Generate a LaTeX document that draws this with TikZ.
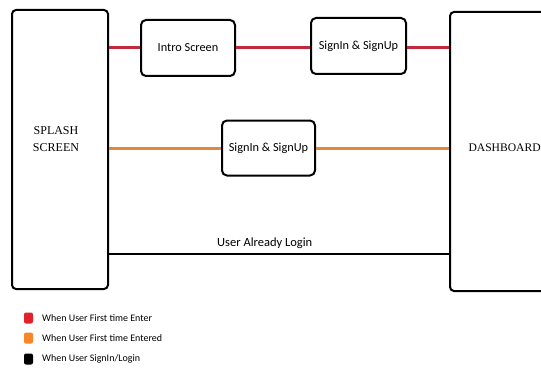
\documentclass[tikz,border=0pt]{standalone}
\usepackage{fontspec}
\setmainfont{Carlito}
\newfontfamily\serifhead{Liberation Serif}
\definecolor{lred}{HTML}{C2293C}
\definecolor{lorange}{HTML}{E0893A}
\definecolor{kred}{HTML}{E3212B}
\definecolor{korange}{HTML}{F5862A}
\begin{document}
\begin{tikzpicture}[x=1pt,y=-1pt,
  bigbox/.style={draw=black,line width=2pt,rounded corners=4pt,fill=white,anchor=north west,inner sep=0pt},
  smallbox/.style={draw=black,line width=2pt,rounded corners=5pt,fill=white,inner sep=0pt,font=\fontsize{12.3}{14}\selectfont},
  redline/.style={lred,line width=3pt},
  orangeline/.style={lorange,line width=3pt},
  blackline/.style={black,line width=2.2pt},
  legsq/.style={rounded corners=2pt,minimum width=9pt,minimum height=11pt,inner sep=0pt},
  legtxt/.style={anchor=west,font=\fontsize{10}{12}\selectfont,inner sep=0pt},
  headtxt/.style={font=\serifhead\fontsize{12}{17}\selectfont,align=center}
]
\useasboundingbox (0,0) rectangle (541,369);
\begin{scope}
\clip (0,0) rectangle (541,369);
\node[bigbox,minimum width=96pt,minimum height=279pt] (splash) at (11,9) {};
\node[bigbox,minimum width=110pt,minimum height=279pt] (dash) at (449,11) {};
\end{scope}
\node[headtxt] (splasht) at (56,139) {SPLASH\\SCREEN};
\node[headtxt,anchor=west,font=\serifhead\fontsize{11.6}{14}\selectfont] (dasht) at (465,148) {DASHBOARD};

\node[smallbox,minimum width=94pt,minimum height=56pt] (intro) at (188,48) {Intro Screen};
\node[smallbox,minimum width=95pt,minimum height=56pt] (sign1) at (358.5,46) {SignIn \& SignUp};
\node[smallbox,minimum width=93pt,minimum height=55pt] (sign2) at (268.5,148) {SignIn \& SignUp};

\draw[redline] (splash.east |- intro.west) -- (intro.west);
\draw[redline] (intro.east) -- (sign1.west |- intro.east);
\draw[redline] (sign1.east |- intro.east) -- (dash.west |- intro.east);
\draw[orangeline] (splash.east |- sign2.west) -- (sign2.west);
\draw[orangeline] (sign2.east) -- (dash.west |- sign2.east);
\coordinate (bl) at (107,254);
\draw[blackline] (splash.east |- bl) -- (dash.west |- bl)
  node[pos=0.458,above=1pt,font=\fontsize{12.5}{14}\selectfont] (already) {User Already Login};

\node[legsq,fill=kred] (k1) at (28.5,318) {};
\node[legsq,fill=korange] (k2) at (28.5,338) {};
\node[legsq,fill=black] (k3) at (28.5,359) {};
\node[legtxt] (t1) at (42,318) {When User First time Enter};
\node[legtxt] (t2) at (42,338) {When User First time Entered};
\node[legtxt] (t3) at (42,359) {When User SignIn/Login};
\end{tikzpicture}
\end{document}
